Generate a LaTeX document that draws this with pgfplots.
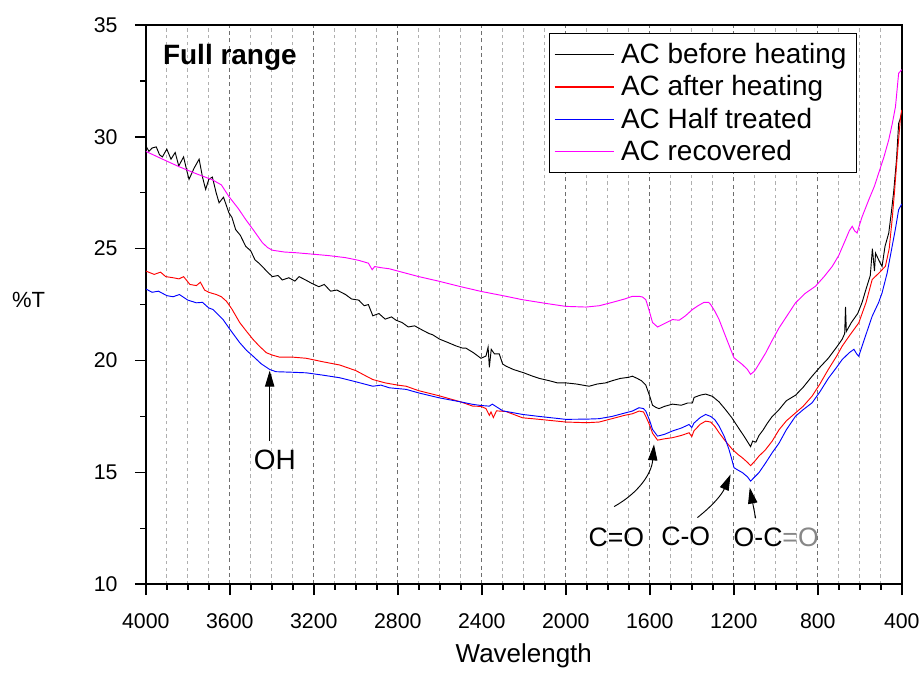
\documentclass[border=0pt]{standalone}
\usepackage{fontspec}
\setmainfont{Liberation Sans}
\usepackage{pgfplots}
\pgfplotsset{compat=1.18}
\usetikzlibrary{arrows.meta}
\definecolor{magentaline}{RGB}{255,0,255}
\definecolor{gridmajor}{RGB}{110,110,110}
\definecolor{gridminor}{RGB}{175,175,175}
\definecolor{annogray}{RGB}{135,135,135}
\begin{document}
\begin{tikzpicture}
\begin{axis}[
  scale only axis,
  width=567.75pt, height=420pt,
  xmin=400, xmax=4000, ymin=10, ymax=35,
  x dir=reverse,
  xtick={400,800,...,4000},
  ytick={10,15,...,35},
  minor x tick num=3,
  minor y tick num=1,
  tick align=outside,
  tick pos=left,
  major tick length=8.25pt,
  minor tick length=4pt,
  every tick/.style={black, line width=1.1pt},
  axis line style={line width=1.4pt},
  xmajorgrids, xminorgrids,
  major grid style={gridmajor, dash pattern=on 3pt off 2.5pt, line width=0.5pt},
  minor grid style={gridminor, dash pattern=on 2.5pt off 2.5pt, line width=0.5pt},
  /pgf/number format/assume math mode=true,
  /pgf/number format/1000 sep={},
  ticklabel style={font=\fontsize{16}{19}\selectfont},
  xticklabel style={yshift=-10pt},
  yticklabel style={xshift=-9.5pt},
  xlabel={Wavelength},
  xlabel style={font=\fontsize{19.5}{23}\selectfont, at={(axis description cs:0.5,0)}, anchor=base, yshift=-58.5pt},
  ylabel={\%T},
  ylabel style={font=\fontsize{16.5}{20}\selectfont, rotate=-90, at={(axis description cs:0,0.509)}, anchor=center, xshift=-88pt},
  legend cell align=left,
  legend style={at={(rel axis cs:0.9406,0.9857)}, anchor=north east,
    font=\fontsize{21}{23}\selectfont, draw=black, line width=0.6pt,
    inner xsep=3pt, inner ysep=6pt, row sep=4.6pt,
    nodes={inner ysep=1.5pt, inner xsep=4.5pt}},
  legend image code/.code={\draw[#1, line width=1pt] (0pt,0pt) -- (45pt,0pt);},
  every axis plot/.append style={line width=0.7pt},
]
\addplot[color=black, draw=black] coordinates {
(4000,29.6) (3985,29.35) (3970,29.5) (3950,29.55) (3935,29.2) (3921,29.1) (3900,29.45) (3880,29.0) (3860,29.3) (3843,28.7) (3820,29.1) (3805,28.5) (3794,28.1) (3770,28.6) (3746,29.0) (3730,28.2) (3715,27.65) (3700,28.1) (3683,28.2) (3665,27.5) (3651,27.05) (3630,27.3) (3604,26.6) (3590,26.4) (3572,25.85) (3550,25.6) (3524,25.1) (3500,24.9) (3480,24.5) (3461,24.35) (3440,24.15) (3420,23.95) (3397,23.75) (3370,23.8) (3350,23.6) (3319,23.7) (3290,23.55) (3270,23.75) (3239,23.6) (3210,23.45) (3176,23.3) (3150,23.4) (3120,23.1) (3090,23.15) (3049,22.95) (3020,22.75) (2986,22.7) (2960,22.45) (2940,22.5) (2919,22.0) (2890,22.1) (2860,21.85) (2830,21.95) (2808,21.8) (2780,21.7) (2750,21.5) (2720,21.55) (2681,21.35) (2650,21.2) (2634,21.15) (2600,20.95) (2560,20.8) (2522,20.65) (2490,20.55) (2475,20.55) (2440,20.35) (2404,20.1) (2380,20.2) (2370,20.6) (2364,19.7) (2355,20.5) (2340,20.3) (2317,20.3) (2301,19.85) (2285,19.75) (2250,19.6) (2200,19.45) (2158,19.3) (2126,19.2) (2080,19.1) (2040,19.0) (2000,19.0) (1950,18.95) (1889,18.85) (1850,18.95) (1810,19.0) (1778,19.1) (1740,19.2) (1700,19.25) (1683,19.3) (1660,19.2) (1640,19.1) (1619,18.9) (1600,18.4) (1587,18.0) (1570,17.9) (1556,17.85) (1530,17.95) (1492,18.05) (1450,18.0) (1420,18.1) (1397,18.1) (1389,18.35) (1360,18.45) (1334,18.5) (1302,18.4) (1270,18.15) (1239,17.8) (1210,17.45) (1175,16.95) (1150,16.6) (1130,16.3) (1120,16.15) (1110,16.4) (1095,16.35) (1080,16.65) (1060,16.9) (1040,17.2) (1017,17.5) (985,17.8) (950,18.2) (906,18.45) (870,18.8) (827,19.3) (790,19.7) (750,20.1) (710,20.6) (684,20.95) (672,21.2) (668,22.4) (664,21.3) (640,21.7) (610,22.1) (589,22.6) (570,23.2) (550,23.8) (540,25.0) (530,24.0) (525,24.8) (510,24.5) (494,24.2) (480,25.1) (462,25.7) (450,26.6) (438,27.6) (425,29.0) (415,30.6) (400,31.0)
};
\addlegendentry{AC before heating}
\addplot[color=red, draw=red] coordinates {
(4000,24.0) (3960,23.85) (3930,23.95) (3905,23.75) (3870,23.7) (3842,23.65) (3820,23.75) (3790,23.4) (3759,23.35) (3740,23.5) (3720,23.15) (3700,23.05) (3683,23.0) (3664,22.95) (3640,22.85) (3616,22.65) (3590,22.3) (3553,21.7) (3520,21.3) (3490,20.95) (3460,20.65) (3426,20.35) (3400,20.25) (3363,20.15) (3300,20.15) (3236,20.1) (3160,19.95) (3077,19.8) (3000,19.55) (2950,19.3) (2919,19.15) (2860,19.0) (2800,18.9) (2760,18.85) (2700,18.65) (2602,18.42) (2500,18.15) (2443,17.96) (2404,17.95) (2380,17.85) (2364,17.55) (2356,17.7) (2345,17.45) (2330,17.75) (2285,17.72) (2206,17.44) (2126,17.37) (2000,17.25) (1900,17.22) (1841,17.25) (1780,17.4) (1720,17.55) (1683,17.62) (1651,17.74) (1630,17.7) (1619,17.5) (1600,17.1) (1587,16.75) (1563,16.44) (1530,16.5) (1492,16.55) (1450,16.65) (1413,16.77) (1400,16.6) (1390,16.85) (1360,17.15) (1334,17.29) (1310,17.25) (1290,17.05) (1270,16.77) (1240,16.4) (1207,16.03) (1180,15.8) (1159,15.65) (1135,15.45) (1120,15.3) (1100,15.5) (1080,15.73) (1050,16.0) (1017,16.4) (985,16.9) (950,17.3) (906,17.66) (870,17.95) (827,18.41) (790,18.95) (750,19.6) (710,20.2) (684,20.64) (650,21.1) (605,21.68) (570,22.6) (541,23.62) (510,23.9) (478,24.21) (460,25.0) (446,26.3) (435,27.5) (422,29.1) (406,30.9) (400,31.2)
};
\addlegendentry{AC after heating}
\addplot[color=blue, draw=blue] coordinates {
(4000,23.2) (3970,23.05) (3940,23.1) (3900,22.9) (3870,22.85) (3840,22.95) (3800,22.7) (3759,22.58) (3730,22.6) (3700,22.35) (3680,22.28) (3655,22.05) (3632,21.83) (3600,21.4) (3553,20.8) (3520,20.45) (3490,20.2) (3450,19.85) (3410,19.6) (3380,19.5) (3315,19.48) (3236,19.45) (3160,19.35) (3077,19.23) (3000,19.05) (2919,18.85) (2880,18.9) (2840,18.78) (2760,18.71) (2700,18.55) (2602,18.33) (2500,18.15) (2443,18.04) (2404,17.99) (2364,17.96) (2350,18.05) (2300,17.75) (2206,17.59) (2126,17.5) (2000,17.37) (1900,17.38) (1841,17.4) (1780,17.5) (1720,17.65) (1683,17.74) (1651,17.89) (1630,17.85) (1619,17.74) (1600,17.3) (1587,16.92) (1563,16.62) (1530,16.7) (1492,16.85) (1450,16.98) (1413,17.14) (1400,17.0) (1390,17.2) (1360,17.45) (1334,17.59) (1310,17.5) (1290,17.35) (1270,17.07) (1245,16.6) (1223,16.03) (1210,15.6) (1199,15.21) (1180,15.1) (1159,14.99) (1135,14.8) (1120,14.61) (1100,14.8) (1080,14.99) (1050,15.4) (1017,15.88) (985,16.3) (950,16.9) (906,17.51) (870,17.8) (827,18.11) (790,18.6) (750,19.2) (710,19.7) (684,20.04) (650,20.35) (628,20.5) (615,20.3) (605,20.19) (580,20.9) (541,21.98) (510,22.6) (494,23.02) (470,23.9) (446,25.1) (430,25.9) (415,26.74) (400,27.0)
};
\addlegendentry{AC Half treated}
\addplot[color=magentaline, draw=magentaline] coordinates {
(4000,29.35) (3920,29.0) (3843,28.67) (3760,28.35) (3683,28.08) (3640,27.85) (3605,27.34) (3560,26.8) (3524,26.3) (3485,25.8) (3445,25.27) (3420,25.05) (3397,24.93) (3340,24.85) (3287,24.82) (3200,24.75) (3130,24.69) (3050,24.6) (2987,24.48) (2940,24.35) (2922,24.06) (2910,24.2) (2880,24.15) (2840,24.1) (2764,23.91) (2700,23.75) (2602,23.54) (2500,23.3) (2404,23.09) (2300,22.9) (2207,22.72) (2100,22.56) (2000,22.42) (1904,22.39) (1840,22.45) (1778,22.6) (1720,22.75) (1683,22.87) (1651,22.87) (1635,22.84) (1619,22.72) (1605,22.3) (1587,21.7) (1563,21.5) (1530,21.65) (1492,21.83) (1460,21.8) (1430,22.0) (1397,22.28) (1370,22.45) (1342,22.6) (1320,22.6) (1310,22.5) (1290,22.2) (1270,21.83) (1240,21.1) (1199,20.12) (1159,19.82) (1135,19.6) (1120,19.38) (1105,19.5) (1096,19.6) (1070,20.0) (1048,20.34) (1020,20.85) (985,21.45) (950,21.95) (906,22.58) (860,23.0) (811,23.32) (770,23.75) (731,24.21) (700,24.7) (668,25.4) (650,25.8) (636,26.0) (625,25.8) (613,25.7) (590,26.4) (557,27.19) (530,27.8) (510,28.38) (485,29.1) (462,29.87) (445,30.6) (430,31.35) (415,32.84) (400,33.0)
};
\addlegendentry{AC recovered}

\node[anchor=west, font=\fontsize{21}{25}\selectfont\bfseries, inner sep=0pt] at (axis cs:3919,33.55) {Full range};

\draw[line width=0.7pt, -{Triangle[length=12pt,width=7pt]}] (axis cs:3410,16.4) -- (axis cs:3410,19.55);
\node[font=\fontsize{21}{25}\selectfont] at (axis cs:3386,15.55) {OH};

\draw[line width=0.7pt, -{Triangle[length=12pt,width=7pt]}] (axis cs:1770,13.47) to[bend right=28] (axis cs:1580,16.25);
\draw[line width=0.7pt, -{Triangle[length=12pt,width=7pt]}] (axis cs:1373,12.98) to[bend right=14] (axis cs:1215,14.91);
\draw[line width=0.7pt, -{Triangle[length=12pt,width=7pt]}] (axis cs:1096,12.95) -- (axis cs:1124,14.32);

\node[font=\fontsize{20}{24}\selectfont] at (axis cs:1759,12.08) {C=O};
\node[font=\fontsize{20}{24}\selectfont] at (axis cs:1429,12.12) {C-O};
\node[font=\fontsize{20}{24}\selectfont] at (axis cs:998,12.08) {O-C\textcolor{annogray}{=O}};
\end{axis}
\path ([shift={(-109.5pt,-66pt)}]current axis.south west) rectangle ([shift={(15.75pt,18.75pt)}]current axis.north east);
\end{tikzpicture}
\end{document}
